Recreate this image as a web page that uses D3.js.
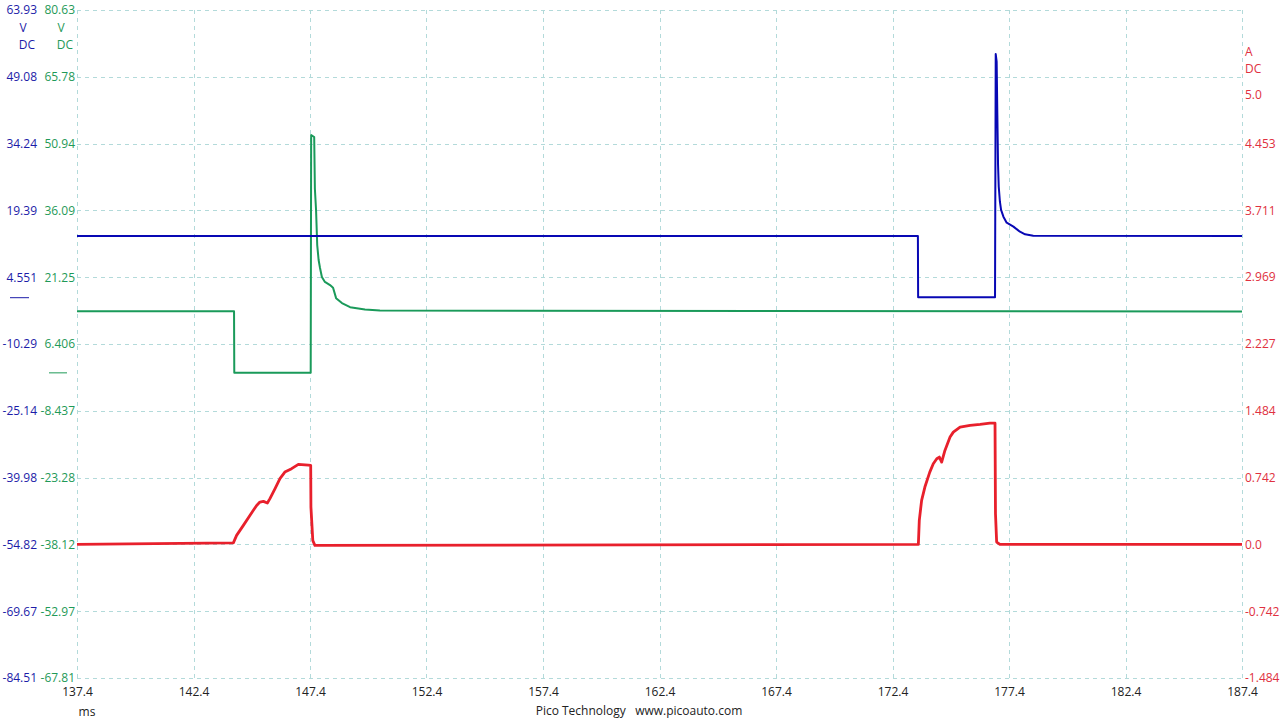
<!DOCTYPE html>
<html><head><meta charset="utf-8">
<script src="https://cdn.jsdelivr.net/npm/d3@7"></script>
<style>
html,body{margin:0;padding:0;background:#fff;}
svg{display:block;font-family:"Open Sans","Noto Sans",sans-serif;}
</style></head>
<body><svg id="c" width="1280" height="720"></svg>
<script>
// ---- data (time in ms, values in V / A) ----
const xTicks = [137.4,142.4,147.4,152.4,157.4,162.4,167.4,172.4,177.4,182.4,187.4];
const blueTicks = ["63.93","49.08","34.24","19.39","4.551","-10.29","-25.14","-39.98","-54.82","-69.67","-84.51"];
const greenTicks = ["80.63","65.78","50.94","36.09","21.25","6.406","-8.437","-23.28","-38.12","-52.97","-67.81"];
const redTicks = ["5.0","4.453","3.711","2.969","2.227","1.484","0.742","0.0","-0.742","-1.484"];

const blueT = [137.4,173.49,173.5,176.80,176.83,176.87,176.90,176.93,176.96,177.01,177.06,177.16,177.30,177.59,177.87,178.09,178.44,187.4];
const blueV = [13.71,13.71,0.1,0.1,54.15,52.44,40.6,29.5,24.66,21.33,19.5,18.0,16.67,15.8,14.66,14.09,13.78,13.71];

const greenT = [137.4,144.14,144.15,147.43,147.45,147.58,147.61,147.66,147.71,147.77,147.83,147.91,148.04,148.26,148.39,148.52,148.77,149.12,149.76,150.4,187.4];
const greenV = [13.7,13.7,0.0,0.0,52.85,52.4,40.85,36.2,28.4,25.07,23.3,21.3,20.2,19.5,18.9,16.6,15.5,14.6,14.07,13.85,13.65];

const redT = [137.4,144.11,144.25,144.54,144.82,145.11,145.25,145.40,145.57,145.68,145.90,146.11,146.32,146.61,146.90,147.33,147.43,147.44,147.52,147.61,
              173.51,173.55,173.65,173.79,174.00,174.15,174.30,174.41,174.51,174.65,174.87,175.01,175.30,175.73,176.16,176.58,176.80,176.82,176.87,177.01,187.4];
const redV = [0.0,0.017,0.10,0.211,0.322,0.433,0.47,0.478,0.459,0.508,0.619,0.73,0.803,0.841,0.889,0.881,0.878,0.414,0.044,-0.011,
              0.0,0.267,0.489,0.637,0.803,0.896,0.952,0.970,0.914,1.044,1.192,1.247,1.303,1.322,1.333,1.347,1.347,0.341,0.026,0.0,0.0];

// ---- layout ----
const L=77,R=1242,T=10,B=678;
const svg=d3.select("#c");
const x=d3.scaleLinear().domain([137.4,187.4]).range([L,R]);
const yB=d3.scaleLinear().domain([-84.51,63.93]).range([B,T]);
const yG=d3.scaleLinear().domain([-67.81,80.63]).range([B,T]);
const yR=d3.scaleLinear().domain([-1.484,5.936]).range([B,T]);

const gridC="#b3dada";
// grid
const gv=svg.append("g");
xTicks.forEach(t=>gv.append("line").attr("x1",Math.round(x(t))+0.5).attr("x2",Math.round(x(t))+0.5).attr("y1",T).attr("y2",B)
  .attr("stroke",gridC).attr("stroke-dasharray","4,4").attr("stroke-width",1));
blueTicks.forEach(v=>gv.append("line").attr("x1",L).attr("x2",R).attr("y1",Math.round(yB(+v))+0.5).attr("y2",Math.round(yB(+v))+0.5)
  .attr("stroke",gridC).attr("stroke-dasharray","4,4").attr("stroke-width",1));

// axes
const blueC="#1c1ca8", greenC="#1f9a58", redC="#e03040";
const axB=svg.append("g").attr("transform",`translate(37,0)`)
  .call(d3.axisLeft(yB).tickValues(blueTicks.map(Number)).tickFormat((d,i)=>blueTicks[i]).tickSize(0).tickPadding(0));
const axG=svg.append("g").attr("transform",`translate(75,0)`)
  .call(d3.axisLeft(yG).tickValues(greenTicks.map(Number)).tickFormat((d,i)=>greenTicks[i]).tickSize(0).tickPadding(0));
const axR=svg.append("g").attr("transform",`translate(1245,0)`)
  .call(d3.axisRight(yR).tickValues(redTicks.map(Number)).tickFormat((d,i)=>redTicks[i]).tickSize(0).tickPadding(0));
const axX=svg.append("g").attr("transform",`translate(0,${B})`)
  .call(d3.axisBottom(x).tickValues(xTicks).tickFormat(d3.format(".1f")).tickSize(0).tickPadding(9));
[axB,axG,axR,axX].forEach(a=>{a.select(".domain").remove();a.selectAll("text").attr("font-size",12).attr("font-family","'Open Sans','Noto Sans',sans-serif");});
axB.selectAll("text").attr("fill",blueC);
axG.selectAll("text").attr("fill",greenC);
axR.selectAll("text").attr("fill",redC);
axX.selectAll("text").attr("fill","#222");

// units
const txt=(s,xx,yy,c,anchor)=>svg.append("text").text(s).attr("x",xx).attr("y",yy).attr("fill",c)
  .attr("font-size",12).attr("text-anchor",anchor||"middle").attr("dominant-baseline","middle").style("white-space","pre");
txt("V",23,29,blueC); txt("DC",27,46,blueC);
txt("V",61,29,greenC); txt("DC",65,46,greenC);
txt("A",1245,53,redC,"start"); txt("DC",1245,70,redC,"start");
txt("ms",87,713,"#222");
txt("Pico Technology   www.picoauto.com",639,712,"#222");

// zero markers
svg.append("line").attr("x1",10).attr("x2",29).attr("y1",yB(0)).attr("y2",yB(0)).attr("stroke",blueC).attr("stroke-width",1);
svg.append("line").attr("x1",49).attr("x2",67).attr("y1",yG(0)).attr("y2",yG(0)).attr("stroke",greenC).attr("stroke-width",1);

// traces
const mk=(T_,V_,ys)=>d3.line().x((d,i)=>x(T_[i])).y((d,i)=>ys(V_[i]))(T_);
svg.append("path").attr("d",mk(redT,redV,yR)).attr("fill","none").attr("stroke","#e8202c").attr("stroke-width",2.8).attr("stroke-linejoin","round");
svg.append("path").attr("d",mk(greenT,greenV,yG)).attr("fill","none").attr("stroke","#1a9a5a").attr("stroke-width",2).attr("stroke-linejoin","round");
svg.append("path").attr("d",mk(blueT,blueV,yB)).attr("fill","none").attr("stroke","#0808b4").attr("stroke-width",2).attr("stroke-linejoin","round");
</script></body></html>
